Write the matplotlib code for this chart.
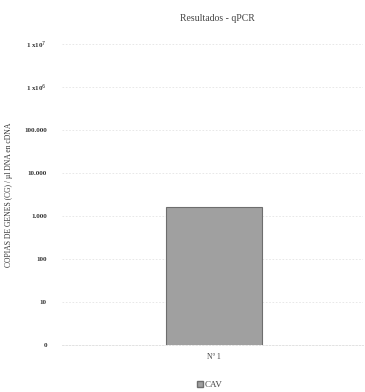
import matplotlib
matplotlib.use("Agg")
import matplotlib.pyplot as plt
from matplotlib.patches import Patch

categories = ["Nº 1"]
values = [1600]
series_name = "CAV"
ytick_values = [1, 10, 100, 1000, 10000, 100000, 1000000, 10000000]
ytick_labels = ["0", "10", "100", "1.000", "10.000", "100.000", "1 x10$^6$", "1 x10$^7$"]

plt.rcParams['font.family'] = ['Liberation Serif', 'DejaVu Serif']

fig = plt.figure(figsize=(3.65, 3.92), dpi=100)
ax = fig.add_axes([0.17, 0.12, 0.825, 0.768])

ax.bar(categories, values, width=0.32, color="#a0a0a0", edgecolor="#6e6e6e",
       linewidth=0.8, bottom=0, zorder=3)
ax.set_yscale("log")
ax.set_ylim(1, 1e7)
ax.set_xlim(-0.505, 0.495)
ax.set_yticks(ytick_values)
ax.set_yticklabels(ytick_labels, fontsize=5, fontweight="bold", color="#333333")
ax.minorticks_off()
ax.tick_params(axis="y", length=0, pad=11)
ax.tick_params(axis="x", length=0, labelsize=5.5, colors="#444444", pad=6)
ax.grid(axis="y", color="#e4e4e4", linewidth=0.6, linestyle=(0, (2, 2)), zorder=0)

for s in ["top", "right", "left"]:
    ax.spines[s].set_visible(False)
ax.spines["bottom"].set_color("#dddddd")
ax.spines["bottom"].set_linestyle((0, (2, 2)))
ax.spines["bottom"].set_linewidth(0.6)

ax.set_ylabel("COPIAS DE GENES (CG) / µl DNA en cDNA", fontsize=5.5, color="#333333", labelpad=8)
fig.text(0.595, 0.952, "Resultados - qPCR", ha="center", va="center", fontsize=7, color="#444444")

fig.legend(handles=[Patch(facecolor="#a0a0a0", edgecolor="#6e6e6e", label=series_name)],
           loc="center", bbox_to_anchor=(0.575, 0.017), frameon=False, fontsize=6.5,
           handlelength=0.7, handleheight=0.7, handletextpad=0.2, labelcolor="#444444")

fig.savefig("out.png", dpi=100, facecolor="white")
